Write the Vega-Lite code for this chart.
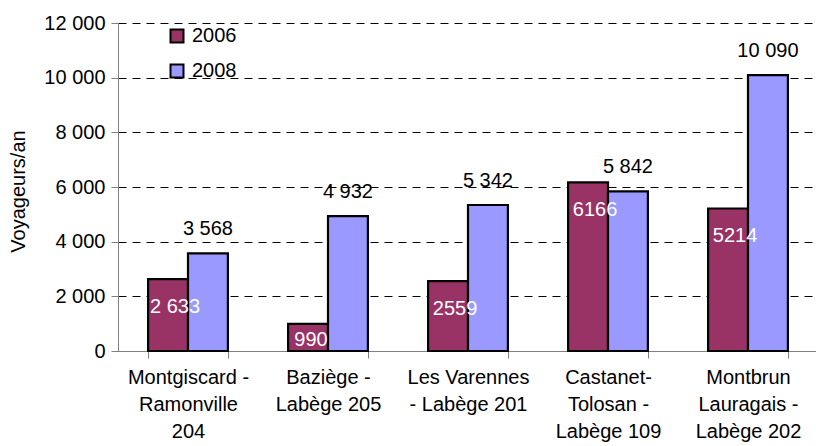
{
  "$schema": "https://vega.github.io/schema/vega-lite/v6.json",
  "width": 700,
  "height": 328,
  "autosize": {"type": "none"},
  "padding": {"left": 118, "top": 23, "right": 0, "bottom": 95},
  "config": {
    "font": "Liberation Sans",
    "view": {"stroke": null},
    "axis": {"labelColor": "#000000", "titleColor": "#000000"}
  },
  "data": {
    "values": [
      {"route": "Montgiscard -|Ramonville|204", "year": "2006", "value": 2633, "label": "2 633"},
      {"route": "Montgiscard -|Ramonville|204", "year": "2008", "value": 3568, "label": "3 568"},
      {"route": "Baziège -|Labège 205", "year": "2006", "value": 990, "label": "990"},
      {"route": "Baziège -|Labège 205", "year": "2008", "value": 4932, "label": "4 932"},
      {"route": "Les Varennes|- Labège 201", "year": "2006", "value": 2559, "label": "2559"},
      {"route": "Les Varennes|- Labège 201", "year": "2008", "value": 5342, "label": "5 342"},
      {"route": "Castanet-|Tolosan -|Labège 109", "year": "2006", "value": 6166, "label": "6166"},
      {"route": "Castanet-|Tolosan -|Labège 109", "year": "2008", "value": 5842, "label": "5 842"},
      {"route": "Montbrun|Lauragais -|Labège 202", "year": "2006", "value": 5214, "label": "5214"},
      {"route": "Montbrun|Lauragais -|Labège 202", "year": "2008", "value": 10090, "label": "10 090"}
    ]
  },
  "encoding": {
    "x": {
      "field": "route",
      "type": "nominal",
      "sort": null,
      "scale": {"paddingInner": 0.43, "paddingOuter": 0.215},
      "axis": {
        "title": null,
        "labelAngle": 0,
        "labelExpr": "split(datum.label, '|')",
        "labelFontSize": 20,
        "labelLineHeight": 27,
        "labelBaseline": "top",
        "labelPadding": 9,
        "labelLimit": 0,
        "tickBand": "extent",
        "tickSize": 7,
        "tickColor": "#808080",
        "domainColor": "#808080",
        "domainWidth": 1
      }
    },
    "xOffset": {
      "field": "year",
      "type": "nominal",
      "scale": {"paddingInner": 0, "paddingOuter": 0}
    },
    "y": {
      "field": "value",
      "type": "quantitative",
      "scale": {"domain": [0, 12000], "nice": false},
      "axis": {
        "values": [0, 2000, 4000, 6000, 8000, 10000, 12000],
        "labelExpr": "replace(format(datum.value, ','), ',', ' ')",
        "labelFontSize": 20,
        "labelPadding": 6,
        "tickSize": 7,
        "tickColor": "#808080",
        "domainColor": "#808080",
        "domainWidth": 1,
        "grid": true,
        "gridColor": "#000000",
        "gridDash": [8, 6],
        "gridWidth": 1,
        "title": "Voyageurs/an",
        "titleFontSize": 20,
        "titleFontWeight": "normal",
        "titleAngle": -90,
        "titleX": -100,
        "titleY": 168,
        "titleAlign": "center",
        "titleBaseline": "middle"
      }
    }
  },
  "layer": [
    {
      "mark": {"type": "bar", "stroke": "#000000", "strokeWidth": 2.2},
      "encoding": {
        "color": {
          "field": "year",
          "type": "nominal",
          "scale": {"domain": ["2006", "2008"], "range": ["#993366", "#9999FF"]},
          "legend": {
            "title": null,
            "orient": "none",
            "legendX": 49,
            "legendY": 3,
            "labelFontSize": 20,
            "symbolType": "square",
            "symbolSize": 169,
            "symbolStrokeColor": "#000000",
            "symbolStrokeWidth": 2,
            "rowPadding": 13,
            "labelOffset": 5
          }
        }
      }
    },
    {
      "transform": [{"filter": "datum.year == '2008'"}],
      "mark": {"type": "text", "fontSize": 20, "color": "#000000", "baseline": "middle", "dy": -24},
      "encoding": {"text": {"field": "label"}}
    },
    {
      "transform": [{"filter": "datum.year == '2006' && datum.value >= 1500"}],
      "mark": {"type": "text", "fontSize": 20, "color": "#FFFFFF", "baseline": "middle", "dy": 28, "dx": 7},
      "encoding": {"text": {"field": "label"}}
    },
    {
      "transform": [{"filter": "datum.year == '2006' && datum.value < 1500"}],
      "mark": {"type": "text", "fontSize": 20, "color": "#FFFFFF", "baseline": "middle", "dy": 16, "dx": 3},
      "encoding": {"text": {"field": "label"}}
    }
  ]
}
